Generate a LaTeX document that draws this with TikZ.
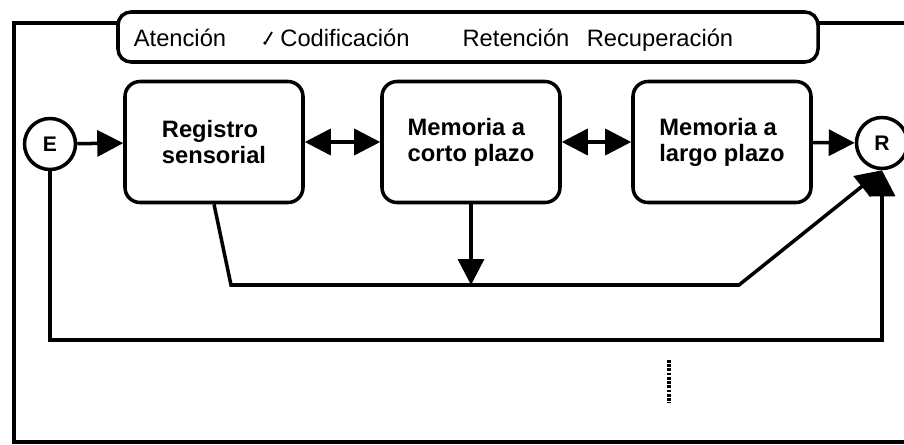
\documentclass[tikz,border=0pt]{standalone}
\usepackage{fontspec}
\setsansfont{Liberation Sans}
\usetikzlibrary{arrows.meta}

\tikzset{
  trazo/.style={line width=2pt},
  etapa/.style={trazo, draw, rounded corners=3mm, minimum width=35.6mm, minimum height=24.2mm,
    align=left, font=\sffamily\bfseries\fontsize{13.5}{14.8}\selectfont},
  extremo/.style={trazo, draw, circle, minimum size=10.2mm, inner sep=0pt,
    font=\sffamily\bfseries\fontsize{12}{14}\selectfont},
  punta/.tip={Triangle[length=5.2mm,width=5.2mm]},
  flecha/.style={trazo, -punta},
  doble/.style={trazo, punta-punta},
  proceso/.style={anchor=base, font=\sffamily\fontsize{13.5}{16}\selectfont}
}

\begin{document}
\begin{tikzpicture}[x=0.2mm,y=-0.2mm]
  \useasboundingbox (0,0) rectangle (904,445);

  \node[trazo, draw, rounded corners=2.6mm, minimum width=140mm, minimum height=10mm] (fases) at (468,37) {};
  \node[proceso] (atencion) at (180,46) {Atención};
  \node[proceso] (codificacion) at (345,46) {Codificación};
  \node[proceso] (retencion) at (516,46) {Retención};
  \node[proceso] (recuperacion) at (660,46) {Recuperación};
  \draw[line width=1pt] (266,42) -- (272,32);
  \fill (265,43) circle (1.8);

  \draw[trazo] (118,23) -- (14,23) -- (14,442) -- (904,442);
  \draw[trazo] (818,23) -- (904,23);

  \node[extremo] (E) at (50,144) {E};
  \node[etapa] (sensorial) at (214,142) {Registro\\sensorial};
  \node[etapa] (corto) at (471,142) {Memoria a\\corto plazo};
  \node[etapa] (largo) at (722,142) {Memoria a\\largo plazo};
  \node[extremo] (R) at (882,143) {R};

  \draw[flecha] (E) -- (sensorial);
  \draw[doble] (sensorial) -- (corto);
  \draw[doble] (corto) -- (largo);
  \draw[flecha] (largo) -- (R);

  \coordinate (codo1) at (231,285);
  \coordinate (codo2) at (739,285);
  \draw[flecha] (sensorial.south) -- (codo1) -- (codo2) -- (R.south);
  \draw[flecha] (corto.south) -- (corto.south |- codo1);
  \draw[flecha] (E.south) -- (50,340) -- (882,340) -- (R.south);

  \draw[line width=1.8pt, dash pattern=on 1.6pt off 0.8pt] (669,360) -- (669,403);
\end{tikzpicture}
\end{document}
